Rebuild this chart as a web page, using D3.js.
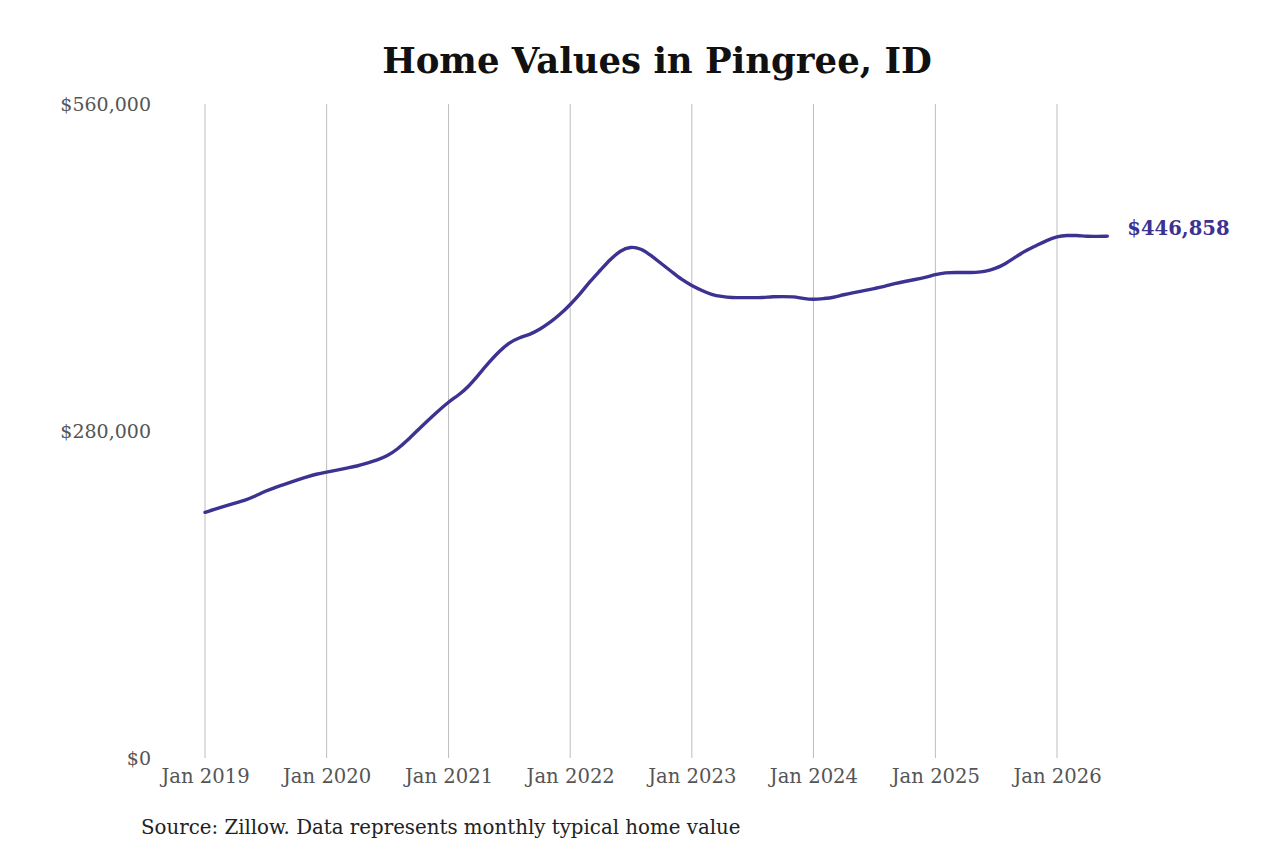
<!DOCTYPE html>
<html><head><meta charset="utf-8">
<script src="https://cdn.jsdelivr.net/npm/d3@7"></script>
<style>body{margin:0;background:#fff;} svg{display:block;}</style>
</head><body>
<svg id="chart" width="1280" height="853"></svg>
<script>
const startDate = "2019-01-01";
const values = [
 210400,213000,215600,218200,220700,224200,228500,231900,234500,237900,240500,243100,
 244800,246500,248200,249900,252500,255100,258500,264500,272300,280900,289400,297200,
 304900,310900,317800,328100,338400,347900,355600,359900,362500,366800,372800,379600,
 388200,397700,408000,417400,426900,434600,438000,436300,430300,423400,416600,409700,
 404500,400200,396800,395100,394200,394200,394200,394200,395100,395100,395100,393400,
 392500,393400,394200,396800,398500,400200,402000,403700,406300,408000,409700,411400,
 414000,415700,415700,415700,415700,416600,419100,423400,429500,434600,438900,443200,
 446600,447500,447500,446600,446600,446858
];
const yTicks = [0, 280000, 560000];
const xTickYears = [2019,2020,2021,2022,2023,2024,2025,2026];
const title = "Home Values in Pingree, ID";
const source = "Source: Zillow. Data represents monthly typical home value";

const parse = d3.timeParse("%Y-%m-%d");
const start = parse(startDate);
const data = values.map((v,i)=>({date:d3.timeMonth.offset(start,i), value:v}));

const svg = d3.select("#chart");
const font = "'DejaVu Serif', serif";
const x = d3.scaleTime().domain([new Date(2019,0,1), new Date(2026,0,1)]).range([205,1057]);
const y = d3.scaleLinear().domain([0,560000]).range([758,104]);

svg.append("text").attr("x",657).attr("y",73).attr("text-anchor","middle")
  .attr("font-family",font).attr("font-weight","bold").attr("font-size",35.5).attr("fill","#111").text(title);

const xTicks = xTickYears.map(yr=>new Date(yr,0,1));
svg.append("g").selectAll("line").data(xTicks).join("line")
  .attr("x1",d=>x(d)).attr("x2",d=>x(d)).attr("y1",104).attr("y2",758)
  .attr("stroke","#bdbdbd").attr("stroke-width",1);

const xAxis = d3.axisBottom(x).tickValues(xTicks).tickFormat(d3.timeFormat("Jan %Y")).tickSize(0).tickPadding(0);
const gx = svg.append("g").attr("transform","translate(0,769)").call(xAxis);
gx.select(".domain").remove();
gx.selectAll("text").attr("font-family",font).attr("font-size",19.6).attr("fill","#555").attr("dy","0.71em");

const yAxis = d3.axisLeft(y).tickValues(yTicks).tickFormat(d=>"$"+d3.format(",")(d)).tickSize(0).tickPadding(0);
const gy = svg.append("g").attr("transform","translate(151,0)").call(yAxis);
gy.select(".domain").remove();
gy.selectAll("text").attr("font-family",font).attr("font-size",19).attr("fill","#555").attr("dy","0.36em");

const line = d3.line().x(d=>x(d.date)).y(d=>y(d.value)).curve(d3.curveBasis);
svg.append("path").datum(data).attr("d",line).attr("fill","none")
  .attr("stroke","#3b3291").attr("stroke-width",3.4).attr("stroke-linejoin","round").attr("stroke-linecap","round");

const last = data[data.length-1];
svg.append("text").attr("x",x(last.date)+20).attr("y",y(last.value)-8).attr("dy","0.35em")
  .attr("font-family",font).attr("font-weight","bold").attr("font-size",19.6).attr("fill","#3b3291")
  .text("$"+d3.format(",")(last.value));

svg.append("text").attr("x",141).attr("y",834).attr("font-family",font).attr("font-size",19.8).attr("fill","#222").text(source);
</script>
</body></html>
